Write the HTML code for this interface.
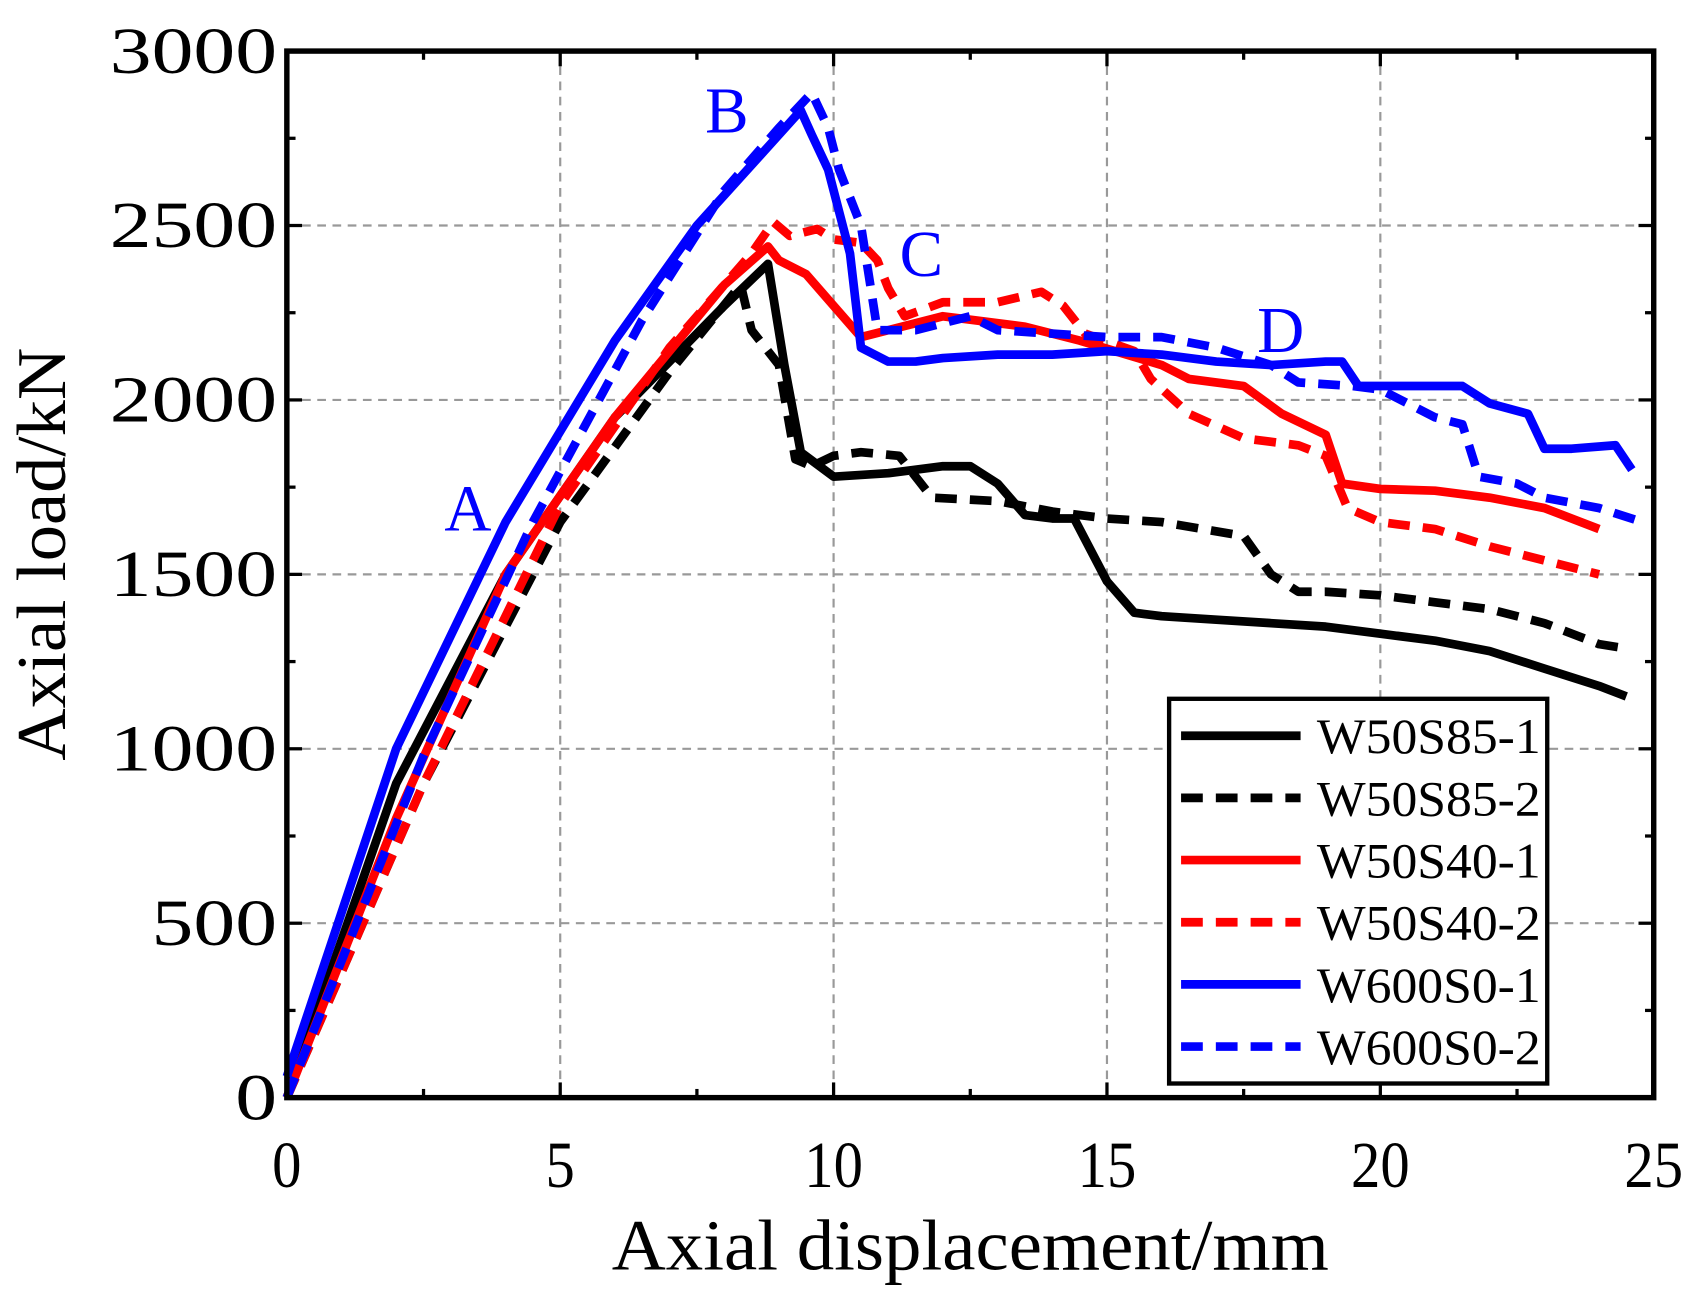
<!DOCTYPE html>
<html><head><meta charset="utf-8"><style>html,body{margin:0;padding:0;background:#fff}svg{display:block}</style></head>
<body>
<svg id="s" width="1695" height="1290" viewBox="0 0 1560 1187" preserveAspectRatio="none" xmlns="http://www.w3.org/2000/svg" font-family="Liberation Serif, serif">
<g id="grid" stroke="#999" stroke-width="2" stroke-dasharray="8,6"></g>
<g id="curves" fill="none" stroke-linejoin="round"></g>
<g id="ticks" stroke="#000" stroke-width="3"></g>
<rect x="264" y="47" width="1258" height="963" fill="none" stroke="#000" stroke-width="5"/>
<g id="labels" font-size="60" fill="#000"></g>
<text x="563" y="1168" font-size="66" textLength="660" lengthAdjust="spacingAndGlyphs">Axial displacement/mm</text>
<text transform="translate(60,700) rotate(-90)" font-size="64" textLength="380" lengthAdjust="spacingAndGlyphs">Axial load/kN</text>
<g fill="#0000ff" font-size="60">
<text x="409" y="488">A</text><text x="649" y="122">B</text><text x="828" y="254">C</text><text x="1157" y="324">D</text>
</g>
<rect x="1076" y="643" width="348" height="354" fill="#fff" stroke="#000" stroke-width="4"/>
<g id="leg" font-size="46"></g>
</svg>
<script>
const X=v=>264+v*50.32, Y=v=>1010-v*0.321;
const ns="http://www.w3.org/2000/svg";
function el(p,t,a,txt){const e=document.createElementNS(ns,t);for(const k in a)e.setAttribute(k,a[k]);if(txt!==undefined)e.textContent=txt;document.getElementById(p).appendChild(e);return e;}
for(let i=1;i<5;i++)el("grid","line",{x1:X(i*5),x2:X(i*5),y1:47,y2:1010});
for(let i=1;i<6;i++)el("grid","line",{x1:264,x2:1522,y1:Y(i*500),y2:Y(i*500)});
for(let i=0;i<=10;i++){const x=X(i*2.5),L=i%2?8:14;el("ticks","line",{x1:x,x2:x,y1:1010,y2:1010-L});el("ticks","line",{x1:x,x2:x,y1:47,y2:47+L});}
for(let i=0;i<=12;i++){const y=Y(i*250),L=i%2?8:14;el("ticks","line",{x1:264,x2:264+L,y1:y,y2:y});el("ticks","line",{x1:1522,x2:1522-L,y1:y,y2:y});}
for(let i=0;i<=5;i++){const s=String(i*5);const w=s.length*27;el("labels","text",{x:X(i*5)-w/2,y:1092,textLength:w,lengthAdjust:"spacingAndGlyphs"},s);}
for(let i=0;i<=6;i++){const s=String(i*500);const w=s.length*38.5;el("labels","text",{x:255-w,y:Y(i*500)+20,textLength:w,lengthAdjust:"spacingAndGlyphs"},s);}
const D={
bs:[[0,0],[2,900],[4,1500],[6,1950],[8,2270],[8.8,2390],[9.1,2100],[9.4,1850],[10,1780],[11,1790],[12,1810],[12.5,1810],[13,1760],[13.5,1670],[14,1660],[14.4,1660],[15,1480],[15.5,1390],[16,1380],[17,1370],[18,1360],[19,1350],[20,1330],[21,1310],[22,1280],[23,1230],[24,1180],[24.5,1150]],
bd:[[0,0],[2.5,900],[5,1650],[7,2080],[8.3,2330],[8.5,2200],[9,2100],[9.3,1830],[9.6,1810],[10,1840],[10.5,1850],[11.2,1840],[11.8,1720],[13,1710],[14,1680],[15,1660],[16,1650],[17.5,1610],[18,1500],[18.5,1450],[19,1450],[20,1440],[21,1420],[22,1400],[23,1360],[24,1300],[24.4,1290]],
rs:[[0,0],[2,800],[4,1500],[6,1950],[8,2330],[8.8,2440],[9,2400],[9.5,2360],[10,2270],[10.5,2180],[11,2200],[12,2240],[12.5,2230],[13.5,2210],[14.5,2170],[16,2100],[16.5,2060],[17.5,2040],[18.2,1960],[19,1900],[19.3,1760],[20,1745],[21,1740],[22,1720],[23,1690],[24,1630]],
rd:[[0,0],[2.5,900],[5,1700],[7,2150],[8.5,2420],[8.9,2510],[9.2,2470],[9.7,2490],[10,2460],[10.5,2450],[10.8,2400],[11,2320],[11.3,2240],[12,2280],[13,2280],[13.8,2310],[14.2,2270],[14.6,2190],[15.5,2140],[15.8,2060],[16.5,1960],[17.5,1890],[18.5,1870],[19,1840],[19.4,1690],[20,1650],[21,1630],[22,1580],[23,1540],[24,1500]],
us:[[0,60],[2,1000],[4,1650],[6,2170],[7.5,2500],[9,2760],[9.4,2830],[9.6,2760],[9.9,2660],[10.3,2420],[10.5,2150],[11,2110],[11.5,2110],[12,2120],[13,2130],[14,2130],[15,2140],[16,2130],[17,2110],[18,2100],[19,2110],[19.3,2110],[19.6,2040],[20.5,2040],[21.5,2040],[22,1990],[22.7,1960],[23,1860],[23.5,1860],[24.3,1870],[24.6,1800]],
ud:[[0,0],[2.5,980],[4.5,1650],[6.5,2230],[8,2600],[9,2780],[9.6,2880],[9.9,2780],[10.1,2660],[10.5,2500],[10.8,2200],[11.5,2200],[12.5,2240],[13,2200],[14,2190],[15,2180],[16,2180],[17,2150],[18,2100],[18.5,2050],[19.5,2040],[20,2030],[21,1950],[21.5,1930],[21.8,1780],[22.5,1760],[23,1720],[24,1690],[24.8,1650]]};
const S=[["bs","#000",0,"W50S85-1"],["bd","#000",1,"W50S85-2"],["rs","#ff0000",0,"W50S40-1"],["rd","#ff0000",1,"W50S40-2"],["us","#0000ff",0,"W600S0-1"],["ud","#0000ff",1,"W600S0-2"]];
S.forEach((s,i)=>{const a={d:"M"+D[s[0]].map(p=>X(p[0]).toFixed(1)+","+Y(p[1]).toFixed(1)).join("L"),stroke:s[1],"stroke-width":8};if(s[2]){a["stroke-dasharray"]="20,12";}el("curves","path",a);
const y=677+i*57.2;const b={x1:1087,x2:1197,y1:y,y2:y,stroke:s[1],"stroke-width":8};if(s[2])b["stroke-dasharray"]="20,12";el("leg","line",b);el("leg","text",{x:1212,y:y+16,textLength:206,lengthAdjust:"spacingAndGlyphs"},s[3]);});
</script>
</body></html>
